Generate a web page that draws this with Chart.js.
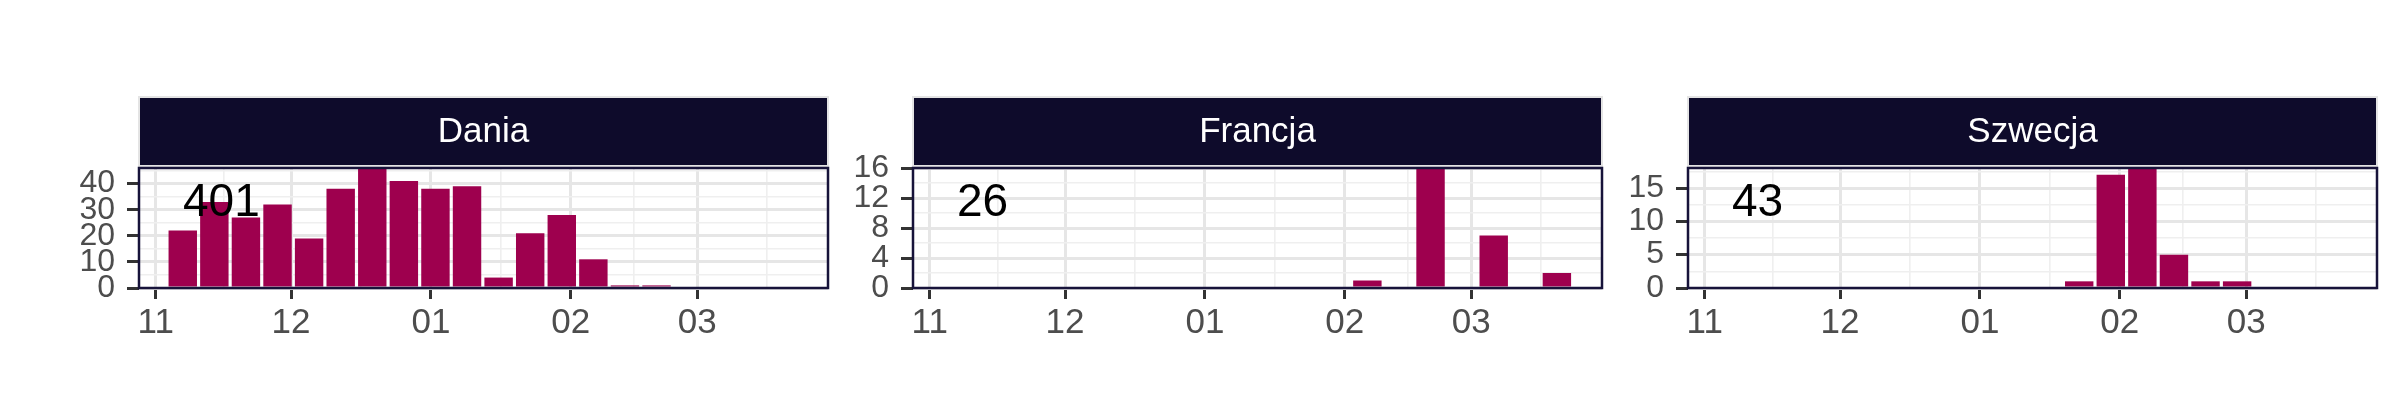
<!DOCTYPE html>
<html>
<head>
<meta charset="utf-8">
<script src="https://cdn.jsdelivr.net/npm/chart.js@4.4.1/dist/chart.umd.min.js"></script>
<style>
  body { margin: 0; background: #fff; width: 2400px; height: 420px; overflow: hidden; }
  .panel { position: absolute; top: 94px; width: 773px; height: 256px; }
</style>
</head>
<body>
<div class="panel" style="left:59px"><canvas id="c0"></canvas></div>
<div class="panel" style="left:833px"><canvas id="c1"></canvas></div>
<div class="panel" style="left:1608px"><canvas id="c2"></canvas></div>
<script>
// DATA

const weekStarts = [
  '2022-11-07', '2022-11-14', '2022-11-21', '2022-11-28',
  '2022-12-05', '2022-12-12', '2022-12-19', '2022-12-26',
  '2023-01-02', '2023-01-09', '2023-01-16', '2023-01-23', '2023-01-30',
  '2023-02-06', '2023-02-13', '2023-02-20', '2023-02-27',
  '2023-03-06', '2023-03-13', '2023-03-20'
];

const daniaCounts   = [22, 33, 27, 32, 19, 38, 46, 41, 38, 39, 4, 21, 28, 11, 1, 1, 0, 0, 0, 0];
const francjaCounts = [0, 0, 0, 0, 0, 0, 0, 0, 0, 0, 0, 0, 0, 1, 0, 16, 0, 7, 0, 2];
const szwecjaCounts = [0, 0, 0, 0, 0, 0, 0, 0, 0, 0, 0, 1, 17, 18, 5, 1, 1, 0, 0, 0];

const panelNames = ['Dania', 'Francja', 'Szwecja'];

const monthStarts = ['2022-11-01', '2022-12-01', '2023-01-01', '2023-02-01', '2023-03-01', '2023-04-01'];
const monthLabels = ['11', '12', '01', '02', '03'];

const daniaYTicks   = [0, 10, 20, 30, 40];
const francjaYTicks = [0, 4, 8, 12, 16];
const szwecjaYTicks = [0, 5, 10, 15];

// COLOURS

const barColor = '#9e004e';
const stripColor = '#0e0b2b';
const frameColor = '#17133a';
const textGrey = '#4d4d4d';

Chart.defaults.font.family = '"Liberation Sans", Arial, sans-serif';

// HELPERS

const origin = Date.parse(monthStarts[0]);
function dayOf(s) {
  return (Date.parse(s) - origin) / 86400000;
}

const weekDays = weekStarts.map(dayOf);
const monthDays = monthStarts.map(dayOf);
const majorX = monthDays.slice(0, monthLabels.length);
const minorX = [];
for (let i = 0; i < monthDays.length - 1; i++) {
  minorX.push((monthDays[i] + monthDays[i + 1]) / 2);
}

function minorOf(major, max) {
  const step = major[1] - major[0];
  const out = [];
  for (let v = major[0] + step / 2; v <= max; v += step) out.push(v);
  return out;
}

// strip on top, count label and panel frame
const facetDecor = {
  id: 'facetDecor',
  beforeDraw(chart) {
    const a = chart.chartArea;
    const c = chart.ctx;
    const w = a.right - a.left;
    c.save();
    c.fillStyle = '#e4e4e4';
    c.fillRect(a.left - 1, a.top - 72, w + 2, 71);
    c.fillStyle = stripColor;
    c.fillRect(a.left + 1, a.top - 70, w - 2, 67);
    c.fillStyle = '#fff';
    c.font = '35px "Liberation Sans", Arial';
    c.textAlign = 'center';
    c.textBaseline = 'middle';
    c.fillText(chart.options.plugins.facetDecor.name, (a.left + a.right) / 2, a.top - 36);
    c.restore();
  },
  afterDatasetsDraw(chart) {
    const a = chart.chartArea;
    const c = chart.ctx;
    const opts = chart.options.plugins.facetDecor;
    c.save();
    c.fillStyle = '#000';
    c.font = '46px "Liberation Sans", Arial';
    c.textAlign = 'left';
    c.textBaseline = 'middle';
    c.fillText(String(opts.total), a.left + 44, a.top + 35);
    c.strokeStyle = frameColor;
    c.lineWidth = 2.5;
    c.strokeRect(a.left, a.top, a.right - a.left, a.bottom - a.top);
    c.restore();
  }
};

function makeChart(id, name, counts, yMajor, yMax) {
  const yMinor = minorOf(yMajor, yMax);
  const total = counts.reduce((s, v) => s + v, 0);

  return new Chart(document.getElementById(id), {
    type: 'bar',
    data: {
      datasets: [{
        data: weekDays.map((d, i) => ({ x: d, y: counts[i] })),
        backgroundColor: barColor,
        borderWidth: 0,
        barPercentage: 0.9,
        categoryPercentage: 1
      }]
    },
    options: {
      responsive: true,
      maintainAspectRatio: false,
      animation: false,
      layout: { padding: { top: 74, right: 4, left: 0, bottom: 0 } },
      plugins: {
        legend: { display: false },
        tooltip: { enabled: false },
        facetDecor: { name: name, total: total }
      },
      scales: {
        x: {
          type: 'linear',
          min: -3.7,
          max: 149,
          offset: false,
          afterFit(s) { s.height = 62; },
          afterBuildTicks(s) {
            s.ticks = majorX.concat(minorX).sort((p, q) => p - q).map(v => ({ value: v }));
          },
          ticks: {
            autoSkip: false,
            maxRotation: 0,
            padding: 3,
            color: textGrey,
            font: { size: 35 },
            callback(v) {
              const i = majorX.indexOf(v);
              return i < 0 ? '' : monthLabels[i];
            }
          },
          grid: {
            offset: false,
            color: c => majorX.includes(c.tick.value) ? '#e6e6e6' : '#efefef',
            lineWidth: c => majorX.includes(c.tick.value) ? 3 : 1.6,
            tickLength: 11,
            tickWidth: 3,
            tickColor: c => majorX.includes(c.tick.value) ? '#333' : 'rgba(0,0,0,0)'
          },
          border: { display: false }
        },
        y: {
          min: 0,
          max: yMax,
          afterFit(s) { s.width = 80; },
          afterBuildTicks(s) {
            s.ticks = yMajor.concat(yMinor).sort((p, q) => p - q).map(v => ({ value: v }));
          },
          ticks: {
            autoSkip: false,
            padding: 12,
            color: textGrey,
            font: { size: 32 },
            callback(v) {
              return yMajor.includes(v) ? String(v) : '';
            }
          },
          grid: {
            color: c => yMajor.includes(c.tick.value) ? '#e6e6e6' : '#efefef',
            lineWidth: c => yMajor.includes(c.tick.value) ? 3 : 1.6,
            tickLength: 12,
            tickWidth: 3,
            tickColor: c => yMajor.includes(c.tick.value) ? '#333' : 'rgba(0,0,0,0)'
          },
          border: { display: false }
        }
      }
    },
    plugins: [facetDecor]
  });
}

makeChart('c0', panelNames[0], daniaCounts, daniaYTicks, 46);
makeChart('c1', panelNames[1], francjaCounts, francjaYTicks, 16);
makeChart('c2', panelNames[2], szwecjaCounts, szwecjaYTicks, 18);
</script>
</body>
</html>
